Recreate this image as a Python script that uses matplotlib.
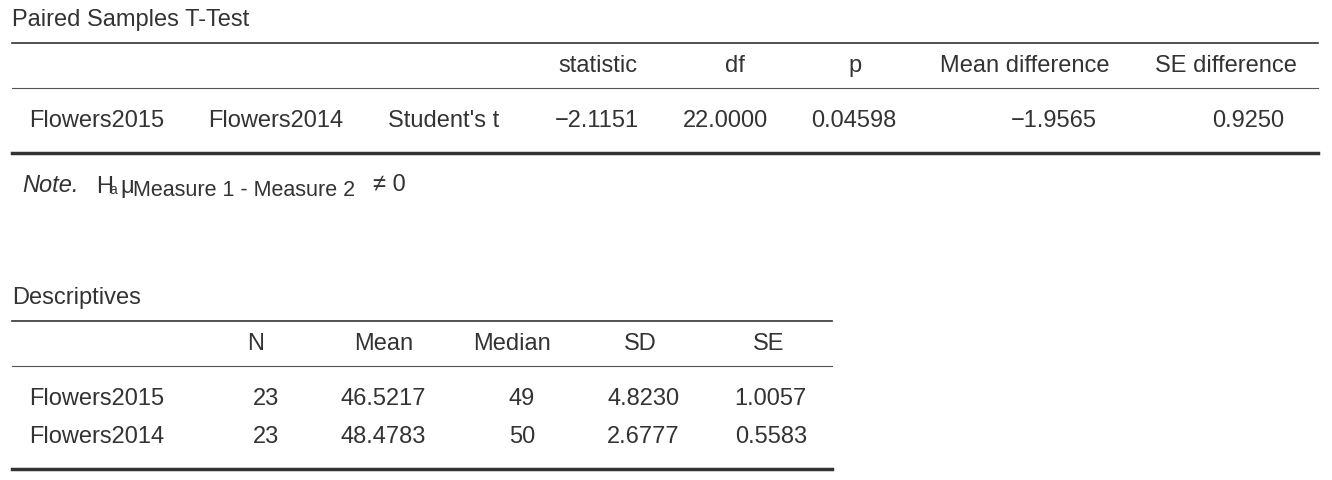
import matplotlib.pyplot as plt

plt.rcParams['font.family'] = ['Liberation Sans', 'DejaVu Sans']

# tableau 1 : test t apparié
tt_head = ['statistic', 'df', 'p', 'Mean difference', 'SE difference']
tt_row = ['Flowers2015', 'Flowers2014', "Student's t"]
tt_vals = ['\u22122.1151', '22.0000', '0.04598', '\u22121.9565', '0.9250']

# tableau 2 : descriptives
desc_head = ['N', 'Mean', 'Median', 'SD', 'SE']
desc_names = ['Flowers2015', 'Flowers2014']
desc_vals = [['23', '46.5217', '49', '4.8230', '1.0057'],
             ['23', '48.4783', '50', '2.6777', '0.5583']]

fig = plt.figure(figsize=(13.32, 4.8), dpi=100)
ax = fig.add_axes([0, 0, 1, 1])
ax.set_xlim(0, 1332)
ax.set_ylim(480, 0)
ax.axis('off')

fs = 17
col = '#333333'

# --- T-test ---
ax.text(12, 20, 'Paired Samples T-Test', fontsize=fs, va='center', color=col)
ax.plot([12, 1318], [43, 43], color='#333333', lw=1.2)
head_x = [598, 735, 855, 1025, 1226]
for x, h in zip(head_x, tt_head):
    ax.text(x, 66, h, fontsize=fs, ha='center', va='center', color=col)
ax.plot([12, 1318], [88, 88], color='#555555', lw=0.8)
for x, t in zip([29, 208, 388], tt_row):
    ax.text(x, 121, t, fontsize=fs, va='center', color=col)
for x, v in zip([639, 768, 896, 1097, 1284], tt_vals):
    ax.text(x, 121, v, fontsize=fs, ha='right', va='center', color=col)
ax.plot([12, 1318], [153, 153], color='#333333', lw=2.5)

# note
ax.text(22, 185, 'Note.', fontsize=fs, style='italic', va='center', color=col)
ax.text(96, 187, 'H', fontsize=fs, va='center', color=col)
ax.text(109, 190, 'a', fontsize=10, va='center', color=col)
ax.text(120, 187, '\u03bc', fontsize=fs, va='center', color=col)
ax.text(133, 191, 'Measure 1 - Measure 2', fontsize=15.5, va='center', color=col)
ax.text(373, 185, '\u2260 0', fontsize=fs, va='center', color=col)

# --- Descriptives ---
ax.text(12, 298, 'Descriptives', fontsize=fs, va='center', color=col)
ax.plot([12, 832], [321, 321], color='#333333', lw=1.2)
for x, h in zip([256, 384, 512, 640, 769], desc_head):
    ax.text(x, 344, h, fontsize=fs, ha='center', va='center', color=col)
ax.plot([12, 832], [366, 366], color='#555555', lw=0.8)
for y, name, vals in zip([399, 437], desc_names, desc_vals):
    ax.text(29, y, name, fontsize=fs, va='center', color=col)
    for x, v in zip([279, 426, 535, 680, 807], vals):
        ax.text(x, y, v, fontsize=fs, ha='right', va='center', color=col)
ax.plot([12, 832], [469, 469], color='#333333', lw=2.5)

plt.savefig('out.png', dpi=100)
